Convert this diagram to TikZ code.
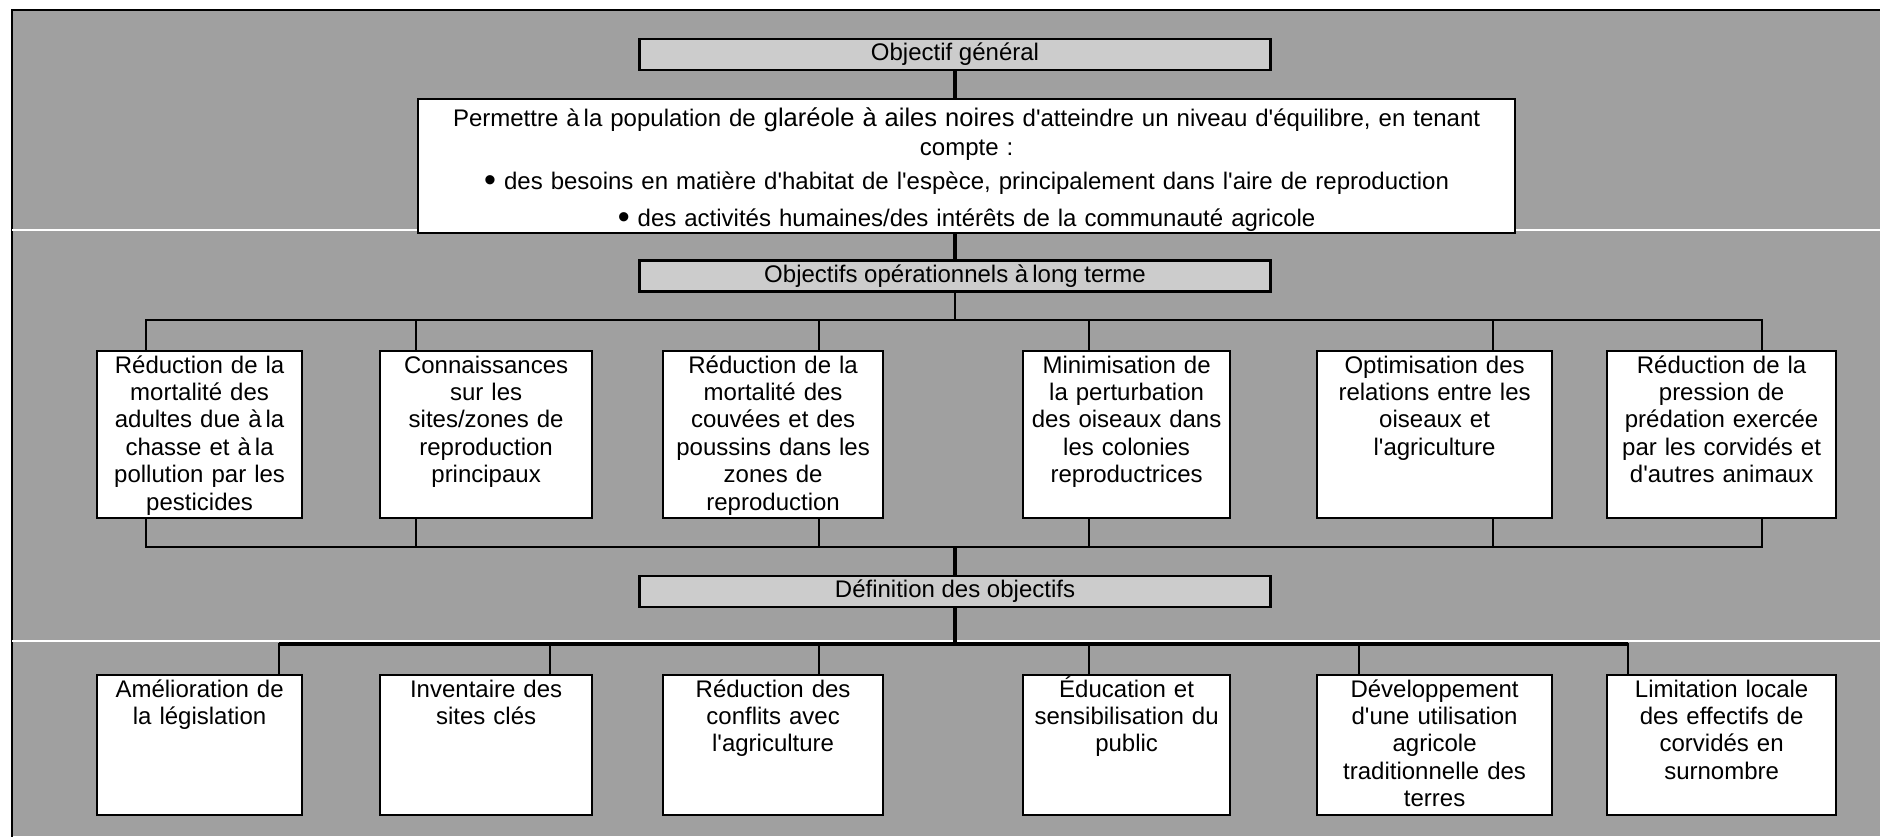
\documentclass[tikz,border=0pt]{standalone}
\usepackage{fontspec}
\setmainfont{Liberation Sans}[Ligatures=TeXOff]
\usepackage{tikz}
\usetikzlibrary{calc}

\definecolor{panelgray}{RGB}{160,160,160}
\definecolor{headgray}{RGB}{204,204,204}

\tikzset{
  headbox/.style={draw, line width=2.2pt, fill=headgray, minimum width=631pt, minimum height=31pt, inner sep=0pt},
  goalbox/.style={draw, line width=2.2pt, fill=white, anchor=north west, inner sep=0pt, align=center, text height=22pt},
  objbox/.style={goalbox, text depth=145pt},
  actbox/.style={goalbox, text depth=118pt},
  thinlink/.style={line width=2pt, line cap=rect},
  thicklink/.style={line width=3.6pt},
  sepline/.style={white, line width=1.2pt},
}

\begin{document}
\begin{tikzpicture}[x=1pt, y=-1pt, font=\fontsize{24}{27.4}\selectfont]
        % Fix the canvas to the page
        \useasboundingbox (0,0) rectangle (1880,836);

        % Draw the grey panel and its frame
        \fill[panelgray] (12,10) rectangle (1880,836);
        \draw[line width=2.6pt] (12,900) -- (12,10) -- (1900,10);

        % Draw the white bands
        \draw[sepline] (12,230) -- (1880,230);
        \draw[sepline] (12,641) -- (1880,641);

        % Headings and the general goal
        \node[headbox] (gen) at (955,54.5) {Objectif général};
        \node[goalbox, text width=1097pt, text height=27pt, text depth=107pt] (aim) at (417,98)
          {Permettre à\,la population de {\fontsize{25.5}{27.4}\selectfont glaréole à ailes noires} d'atteindre un niveau d'équilibre, en tenant\\[1.6pt]
           compte :\\[6.6pt]
           \raisebox{-2pt}{\fontsize{34}{27.4}\selectfont •} des besoins en matière d'habitat de l'espèce, principalement dans l'aire de reproduction\\[9.6pt]
           \raisebox{-2pt}{\fontsize{34}{27.4}\selectfont •} des activités humaines/des intérêts de la communauté agricole};
        \node[headbox] (ope) at (955,276) {Objectifs opérationnels à\,long terme};
        \node[headbox] (def) at (955,591.5) {Définition des objectifs};

        % Long term objectives
        \node[objbox, text width=205pt] (o1) at (96,350) {Réduction de la\\mortalité des\\adultes due à\,la\\chasse et à\,la\\pollution par les\\pesticides};
        \node[objbox, text width=212pt] (o2) at (379,350) {Connaissances\\sur les\\sites/zones de\\reproduction\\principaux};
        \node[objbox, text width=220pt] (o3) at (662,350) {Réduction de la\\mortalité des\\couvées et des\\poussins dans les\\zones de\\reproduction};
        \node[objbox, text width=207pt] (o4) at (1022,350) {Minimisation de\\la perturbation\\des oiseaux dans\\les colonies\\reproductrices};
        \node[objbox, text width=235pt] (o5) at (1316,350) {Optimisation des\\relations entre les\\oiseaux et\\l'agriculture};
        \node[objbox, text width=229pt] (o6) at (1606,350) {Réduction de la\\pression de\\prédation exercée\\par les corvidés et\\d'autres animaux};

        % Actions
        \node[actbox, text width=205pt] (a1) at (96,674) {Amélioration de\\la législation};
        \node[actbox, text width=212pt] (a2) at (379,674) {Inventaire des\\sites clés};
        \node[actbox, text width=220pt] (a3) at (662,674) {Réduction des\\conflits avec\\l'agriculture};
        \node[actbox, text width=207pt] (a4) at (1022,674) {Éducation et\\sensibilisation du\\public};
        \node[actbox, text width=235pt] (a5) at (1316,674) {Développement\\d'une utilisation\\agricole\\traditionnelle des\\terres};
        \node[actbox, text width=229pt] (a6) at (1606,674) {Limitation locale\\des effectifs de\\corvidés en\\surnombre};

        % Branch points
        \foreach \n/\x in {1/146,2/416,3/819,4/1089,5/1493,6/1762} {
          \coordinate (up\n) at (\x,320);
          \coordinate (dn\n) at (\x,547);
        }
        \foreach \n/\x in {1/279,2/550,3/819,4/1089,5/1359,6/1628}
          \coordinate (br\n) at (\x,644);

        % Connectors
        \draw[thicklink] (gen.south) -- (gen.south |- aim.north);
        \draw[thicklink] (ope.north |- aim.south) -- (ope.north);
        \draw[thinlink] (ope.south) -- (ope.south |- up1);
        \draw[thinlink] (up1) -- (up6);
        \draw[thinlink] (dn1) -- (dn6);
        \draw[thicklink] (def.north |- dn1) -- (def.north);
        \draw[thicklink] (def.south) -- (def.south |- br1);
        \draw[thicklink] (br1) -- (br6);
        \foreach \n in {1,...,6} {
          \draw[thinlink] (up\n) -- (up\n |- o\n.north);
          \draw[thinlink] (dn\n) -- (dn\n |- o\n.south);
          \draw[thinlink] (br\n) -- (br\n |- a\n.north);
        }
    \end{tikzpicture}
\end{document}
